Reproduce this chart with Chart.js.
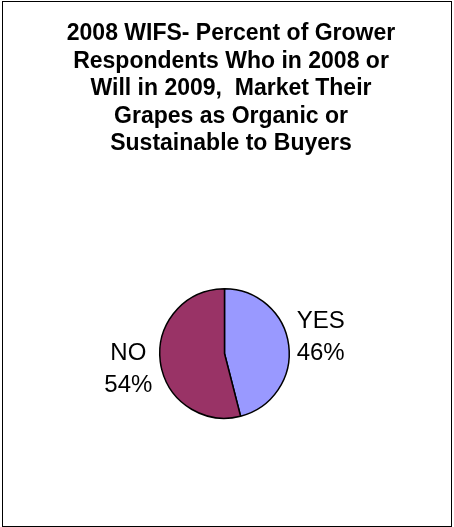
<!DOCTYPE html>
<html lang="en">
<head>
    <meta charset="UTF-8">
    <title>2008 WIFS Organic or Sustainable Marketing</title>
    <script src="https://cdn.jsdelivr.net/npm/chart.js"></script>
    <style>
        body { margin: 0; background: #fff; }
        #frame {
            position: absolute;
            left: 2px;
            top: 1px;
            width: 448px;
            height: 524px;
            border: 1px solid #000;
        }
    </style>
</head>
<body>
    <div id="frame"><canvas id="pieChart" width="448" height="524"></canvas></div>

    <script>
        const titleLines = [
            "2008 WIFS- Percent of Grower",
            "Respondents Who in 2008 or",
            "Will in 2009,  Market Their",
            "Grapes as Organic or",
            "Sustainable to Buyers"
        ];
        const answers = ["YES", "NO"];
        const percents = [46, 54];
        const sliceColors = ["#9999FF", "#993366"];

        // title drawn by hand so it can sit a little right of the pie, as in the original
        const titleBlock = {
            id: "titleBlock",
            afterDraw(chart) {
                const ctx = chart.ctx;
                ctx.save();
                ctx.fillStyle = "#000";
                ctx.font = "bold 23px 'Liberation Sans', Arial, sans-serif";
                ctx.textAlign = "center";
                ctx.textBaseline = "alphabetic";
                titleLines.forEach((line, i) => {
                    ctx.fillText(line, 228, 38 + i * 27.5);
                });
                ctx.restore();
            }
        };

        // "YES / 46%" style labels just outside each slice
        const outsideLabels = {
            id: "outsideLabels",
            afterDatasetsDraw(chart) {
                const ctx = chart.ctx;
                const arcs = chart.getDatasetMeta(0).data;
                ctx.save();
                ctx.fillStyle = "#000";
                ctx.font = "24px 'Liberation Sans', Arial, sans-serif";
                ctx.textBaseline = "middle";
                ctx.textAlign = "center";
                const lineH = 32;
                arcs.forEach((arc, i) => {
                    const p = arc.getProps(["x", "y", "startAngle", "endAngle", "outerRadius"], true);
                    const mid = (p.startAngle + p.endAngle) / 2;
                    const dist = p.outerRadius + 8;
                    const cos = Math.cos(mid), sin = Math.sin(mid);
                    const lines = [answers[i], percents[i] + "%"];
                    const w = Math.max(...lines.map(l => ctx.measureText(l).width));
                    const ax = p.x + cos * dist;
                    const cx = cos >= 0 ? ax + w / 2 : ax - w / 2;
                    const cy = p.y + sin * dist + Math.sign(sin) * 7;
                    lines.forEach((l, j) => {
                        ctx.fillText(l, cx, cy + (j - (lines.length - 1) / 2) * lineH);
                    });
                });
                ctx.restore();
            }
        };

        const ctx = document.getElementById("pieChart").getContext("2d");
        new Chart(ctx, {
            type: "pie",
            data: {
                labels: answers,
                datasets: [{
                    data: percents,
                    backgroundColor: sliceColors,
                    borderColor: "#000",
                    borderWidth: 1.5
                }]
            },
            options: {
                responsive: false,
                animation: false,
                layout: {
                    padding: { left: 156, right: 161, top: 286, bottom: 107 }
                },
                plugins: {
                    legend: { display: false },
                    title: { display: false },
                    tooltip: { enabled: false }
                }
            },
            plugins: [titleBlock, outsideLabels]
        });
    </script>
</body>
</html>
